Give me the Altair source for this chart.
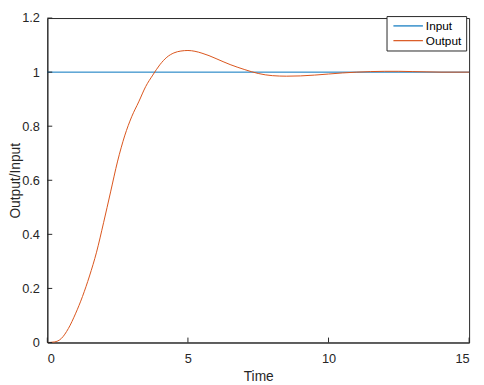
import altair as alt
import pandas as pd

# Output (step response)
time_out = [0, 0.25, 0.5, 0.75, 1.0, 1.25, 1.5, 1.75, 2.0, 2.25, 2.5, 2.75, 3.0,
            3.25, 3.5, 3.75, 4.0, 4.25, 4.5, 4.75, 5.0, 5.25, 5.5, 5.75, 6.0,
            6.5, 7.0, 7.5, 8.0, 8.5, 9.0, 9.5, 10.0, 10.5, 11.0, 11.5, 12.0,
            12.5, 13.0, 13.5, 14.0, 15.0]
output_vals = [0.0, 0.002, 0.015, 0.052, 0.106, 0.170, 0.246, 0.334, 0.443, 0.557,
               0.671, 0.764, 0.835, 0.890, 0.947, 0.989, 1.027, 1.055, 1.071,
               1.078, 1.080, 1.077, 1.070, 1.061, 1.050, 1.028, 1.010, 0.995,
               0.987, 0.985, 0.986, 0.989, 0.993, 0.997, 1.000, 1.002, 1.003,
               1.003, 1.002, 1.001, 1.000, 1.000]
# Input (unit step)
time_in = [0, 15]
input_vals = [1, 1]

series_names = ["Input", "Output"]
series_colors = ["#0072BD", "#D95319"]
x_ticks = [0, 5, 10, 15]
y_ticks = [0, 0.2, 0.4, 0.6, 0.8, 1, 1.2]

rows = [{"t": t, "v": v, "series": "Input", "k": 0} for t, v in zip(time_in, input_vals)]
rows += [{"t": t, "v": v, "series": "Output", "k": 1} for t, v in zip(time_out, output_vals)]
df = pd.DataFrame(rows)

W, H = 429, 330
dark = "#262626"

x_scale = alt.Scale(domain=[0, 15], nice=False)
y_scale = alt.Scale(domain=[0, 1.2], nice=False)

lines = alt.Chart(df).mark_line(strokeWidth=1, interpolate="monotone").encode(
    x=alt.X("t:Q", scale=x_scale, title="Time",
            axis=alt.Axis(values=x_ticks, ticks=False, labelPadding=10, titlePadding=5,
                          labelExpr="'' + datum.value")),
    y=alt.Y("v:Q", scale=y_scale, title="Output/Input",
            axis=alt.Axis(values=y_ticks, ticks=False, labelPadding=8, titleX=-25,
                          labelExpr="'' + datum.value")),
    color=alt.Color("series:N",
                    scale=alt.Scale(domain=series_names, range=series_colors),
                    legend=alt.Legend(title=None, orient="none", legendX=345, legendY=-2,
                                      fillColor="white", strokeColor=dark, padding=4,
                                      labelFontSize=12, labelColor="#000000",
                                      labelFont="Liberation Sans",
                                      symbolType="M-3,0L3,0", symbolSize=100,
                                      symbolOffset=12,
                                      symbolStrokeWidth=1.2, rowPadding=3,
                                      labelOffset=12)),
    detail="series:N",
    order="k:Q",
)

ytick_df = pd.DataFrame({"v": y_ticks})
xtick_df = pd.DataFrame({"t": x_ticks})

yt = alt.Chart(ytick_df).mark_rule(color=dark, strokeWidth=1).encode(
    y=alt.Y("v:Q", scale=y_scale), x=alt.value(0), x2=alt.value(5))
xt = alt.Chart(xtick_df).mark_rule(color=dark, strokeWidth=1).encode(
    x=alt.X("t:Q", scale=x_scale), y=alt.value(H), y2=alt.value(H - 5))

chart = alt.layer(lines, yt, xt).properties(
    width=W, height=H,
    autosize=alt.AutoSizeParams(type="none"),
    padding={"left": 40, "top": 7, "right": 7, "bottom": 40},
).configure_view(stroke=dark, strokeWidth=1).configure_axis(
    grid=False, domainColor=dark, labelColor=dark, titleColor=dark,
    labelFont="Liberation Sans", titleFont="Liberation Sans",
    labelFontSize=13, titleFontSize=14, titleFontWeight="normal",
)

chart.save("out.html", embed_options={"renderer": "svg", "actions": False})
